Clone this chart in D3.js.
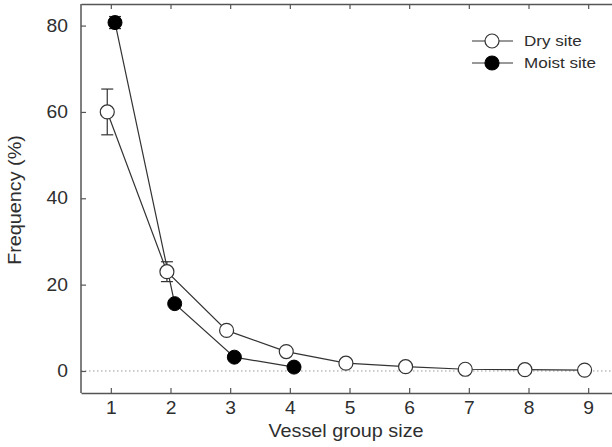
<!DOCTYPE html>
<html><head><meta charset="utf-8">
<script src="https://cdn.jsdelivr.net/npm/d3@7"></script>
<style>body{margin:0;background:#fff}svg{display:block;font-family:"Liberation Sans",Arial,sans-serif}</style>
</head><body><svg id="c" width="612" height="447"></svg>
<script>
const sizes = [1,2,3,4,5,6,7,8,9];
const drySite = [60, 23, 9.4, 4.5, 1.8, 1.0, 0.4, 0.3, 0.2];
const dryErr = [5.3, 2.3, 0, 0, 0, 0, 0, 0, 0];
const moistSizes = [1,2,3,4];
const moistSite = [80.7, 15.6, 3.2, 0.9];
const moistErr = [1.4, 0, 0, 0];
const yTicks = [0,20,40,60,80];
const xTicks = [1,2,3,4,5,6,7,8,9];

const svg = d3.select("#c");
const L=81, T=4, B=393, R=618;
const x = d3.scaleLinear().domain([0.5,9.5]).range([L,R]);
const y = d3.scaleLinear().domain([-5.1,85]).range([B,T]);
const axisCol="#555";
const txtCol="#2e2e2e";
const sx = 1.1;

svg.append("line").attr("x1",L).attr("x2",612).attr("y1",y(0)).attr("y2",y(0))
  .attr("stroke","#999").attr("stroke-width",1).attr("stroke-dasharray","1.5,2.5");

const gx = svg.append("g").attr("transform",`translate(0,${B})`)
  .call(d3.axisBottom(x).tickValues(xTicks).tickSizeInner(-5).tickSizeOuter(0).tickPadding(9));
const gxt = svg.append("g").attr("transform",`translate(0,${T})`)
  .call(d3.axisTop(x).tickValues(xTicks).tickSizeInner(-5).tickSizeOuter(0).tickFormat(""));
const gy = svg.append("g").attr("transform",`translate(${L},0)`)
  .call(d3.axisLeft(y).tickValues(yTicks).tickSizeInner(-5).tickSizeOuter(0).tickPadding(13));
[gx,gxt,gy].forEach(g=>{
  g.select(".domain").attr("stroke",axisCol).attr("stroke-width",1.5);
  g.selectAll(".tick line").attr("stroke",axisCol).attr("stroke-width",1.2);
  g.selectAll("text").attr("fill",txtCol).attr("font-size",17.5).attr("font-weight",400).attr("font-family","Liberation Sans, Arial, sans-serif");
});
gy.select(".domain").attr("d",`M0,${T}V${B}`);
gx.selectAll(".tick text").attr("transform",`scale(${sx},1)`);
gy.selectAll(".tick text").each(function(){
  const t=d3.select(this); const xx=+t.attr("x");
  t.attr("transform",`translate(${xx},0) scale(${sx},1)`).attr("x",0);
});

const dOff=-0.06, mOff=0.07;
const line = d3.line();
const dryPts = sizes.map((s,i)=>[x(s+dOff), y(drySite[i])]);
const moistPts = moistSizes.map((s,i)=>[x(s+mOff), y(moistSite[i])]);
svg.append("path").attr("d",line(dryPts)).attr("fill","none").attr("stroke","#333").attr("stroke-width",1.2);
svg.append("path").attr("d",line(moistPts)).attr("fill","none").attr("stroke","#333").attr("stroke-width",1.2);

function errBars(xs, vals, errs, off){
  xs.forEach((s,i)=>{
    if(!errs[i]) return;
    const cx=x(s+off), y1=y(vals[i]+errs[i]), y2=y(vals[i]-errs[i]);
    svg.append("line").attr("x1",cx).attr("x2",cx).attr("y1",y1).attr("y2",y2).attr("stroke","#333").attr("stroke-width",1.2);
    [y1,y2].forEach(yy=>svg.append("line").attr("x1",cx-6).attr("x2",cx+6).attr("y1",yy).attr("y2",yy).attr("stroke","#333").attr("stroke-width",1.2));
  });
}
errBars(sizes, drySite, dryErr, dOff);
errBars(moistSizes, moistSite, moistErr, mOff);

svg.selectAll(".dry").data(dryPts).join("circle").attr("cx",d=>d[0]).attr("cy",d=>d[1]).attr("r",7)
  .attr("fill","#fff").attr("stroke","#333").attr("stroke-width",1.2);
svg.selectAll(".moist").data(moistPts).join("circle").attr("cx",d=>d[0]).attr("cy",d=>d[1]).attr("r",7)
  .attr("fill","#000").attr("stroke","#000").attr("stroke-width",1);

const leg = [{t:"Dry site",f:"#fff",s:"#333",y:41},{t:"Moist site",f:"#000",s:"#000",y:63}];
leg.forEach(l=>{
  svg.append("line").attr("x1",472).attr("x2",513).attr("y1",l.y).attr("y2",l.y).attr("stroke","#333").attr("stroke-width",1.2);
  svg.append("circle").attr("cx",492).attr("cy",l.y).attr("r",7).attr("fill",l.f).attr("stroke",l.s).attr("stroke-width",1.2);
  svg.append("text").attr("transform",`translate(524,${l.y}) scale(${sx},1)`).attr("dy","0.35em").text(l.t)
    .attr("font-size",15.5).attr("fill",txtCol);
});

svg.append("text").attr("transform",`translate(346,437) scale(${sx},1)`).attr("text-anchor","middle").text("Vessel group size")
  .attr("font-size",18).attr("fill",txtCol);
svg.append("text").attr("transform","translate(21,200) rotate(-90) scale(1.1,1)").attr("text-anchor","middle").text("Frequency (%)")
  .attr("font-size",18).attr("fill",txtCol);
</script></body></html>
